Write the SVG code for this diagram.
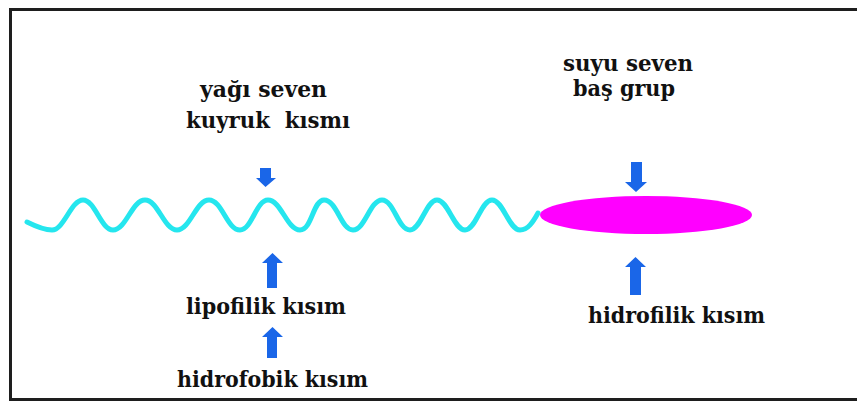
<svg xmlns="http://www.w3.org/2000/svg" width="857" height="401" viewBox="0 0 857 401">
<style>
.lbl{font-family:'DejaVu Serif','Liberation Serif',serif;font-weight:700;font-size:22px;fill:#111}
.arr{fill:#1a66e8}
.wave{fill:none;stroke:#25e6ee;stroke-width:5;stroke-linecap:round;stroke-linejoin:round}
</style>
<rect width="857" height="401" fill="#ffffff"/>
<path d="M857,9.5 H10.5 V399.5 H857" fill="none" stroke="#1e1e1e" stroke-width="3"/>
<g id="tail">
<path class="wave" d="M27,222 C37,227 44,230 52,230 C64,230 71,200 83,200 C95,200 101,230 113,230 C126,230 132,200 145,200 C158,200 164,230 177,230 C190,230 196,200 209,200 C222,200 227,230 240,230 C252,230 256,200 268,200 C281,200 287,230 300,230 C312,230 313,200 324,200 C337,200 341,230 353,230 C365,230 370,200 382,200 C394,200 398,230 410,230 C421,230 426,200 437,200 C448,200 454,230 465,230 C476,230 481,200 492,200 C503,200 509,230 520,230 C528,230 533,222 538,213"/>
</g>
<g id="head">
<ellipse cx="646" cy="215" rx="106" ry="19" fill="#ff00ff"/>
</g>
<g id="connectors">
<path class="arr" d="M260,168 H271 V178 H276 L265.5,187 L256,178 H260 Z"/>
<path class="arr" d="M631,162 H642 V182 H647 L636,192 L625,182 H631 Z"/>
<path class="arr" d="M272.5,253 L283,263 H277 V288 H267 V263 H262 Z"/>
<path class="arr" d="M272.5,327 L283,337 H277 V358 H267 V337 H262 Z"/>
<path class="arr" d="M635.5,257 L646,267 H641 V295 H630 V267 H625 Z"/>
</g>
<g id="label-tail">
<text class="lbl" x="200" y="97" textLength="127" lengthAdjust="spacingAndGlyphs">yağı seven</text>
<text class="lbl" x="186" y="128" textLength="164" lengthAdjust="spacingAndGlyphs" xml:space="preserve">kuyruk  kısmı</text>
</g>
<g id="label-head">
<text class="lbl" x="563" y="71" textLength="130" lengthAdjust="spacingAndGlyphs">suyu seven</text>
<text class="lbl" x="573" y="96" textLength="102" lengthAdjust="spacingAndGlyphs">baş grup</text>
</g>
<g id="label-lipo">
<text class="lbl" x="186" y="314" textLength="160" lengthAdjust="spacingAndGlyphs">lipofilik kısım</text>
</g>
<g id="label-hidrofobik">
<text class="lbl" x="177" y="387" textLength="191" lengthAdjust="spacingAndGlyphs">hidrofobik kısım</text>
</g>
<g id="label-hidrofilik">
<text class="lbl" x="588" y="323" textLength="177" lengthAdjust="spacingAndGlyphs">hidrofilik kısım</text>
</g>
</svg>
